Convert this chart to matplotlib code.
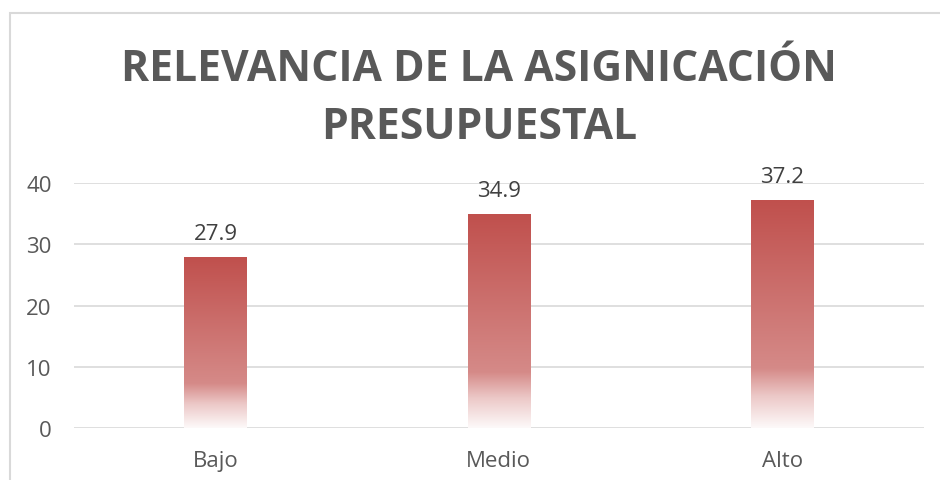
import numpy as np
import matplotlib.pyplot as plt
from matplotlib.colors import LinearSegmentedColormap
from matplotlib.patches import Rectangle

categories = ["Bajo", "Medio", "Alto"]
values = [27.9, 34.9, 37.2]
yticks = [0, 10, 20, 30, 40]
title = "RELEVANCIA DE LA ASIGNICACIÓN\nPRESUPUESTAL"


def main():
    plt.rcParams['font.family'] = ['Open Sans', 'DejaVu Sans']
    fig = plt.figure(figsize=(9.4, 4.81), dpi=100)
    ax = fig.add_axes([0.0787, 0.108, 0.904, 0.5095])

    # chart border (cut off at right / bottom like the screenshot)
    fig.patches.append(Rectangle((10 / 940, -0.1), 1.2, 1.1 - 14 / 481, transform=fig.transFigure,
                                 fill=False, edgecolor="#d9d9d9", linewidth=1.5))

    x = np.arange(len(categories))
    bars = ax.bar(x, values, width=0.22, color="none", zorder=3)

    # red -> white gradient inside each bar
    cmap = LinearSegmentedColormap.from_list("grad", [
        (0.0, (192/255, 80/255, 77/255)),
        (0.74, (213/255, 138/255, 136/255)),
        (0.86, (236/255, 200/255, 199/255)),
        (1.0, (253/255, 249/255, 249/255)),
    ])
    grad = np.linspace(0, 1, 256).reshape(-1, 1)
    for b in bars:
        x0, w, h = b.get_x(), b.get_width(), b.get_height()
        im = ax.imshow(grad, cmap=cmap, aspect="auto", extent=[x0, x0 + w, 0, h],
                       origin="upper", zorder=3)
        im.set_clip_path(b)
        ax.text(b.get_x() + w / 2, h + 2.9, f"{h:.1f}", ha="center", va="baseline",
                fontsize=16, color="#404040")

    ax.set_xlim(-0.5, 2.5)
    ax.set_ylim(0, 40)
    ax.set_yticks(yticks)
    ax.set_xticks(x)
    ax.set_xticklabels(categories)
    ax.tick_params(length=0, labelsize=16, labelcolor="#595959")
    ax.tick_params(axis="x", pad=16)
    ax.tick_params(axis="y", pad=16)
    ax.grid(axis="y", color="#d9d9d9", linewidth=1.2, zorder=0)
    for s in ax.spines.values():
        s.set_visible(False)

    fig.text(0.51, 0.90, title, ha="center", va="top", fontsize=30.7, fontweight="bold",
             color="#595959", linespacing=1.45)

    fig.savefig("out.png", dpi=100)
    plt.close()


if __name__ == "__main__":
    main()
